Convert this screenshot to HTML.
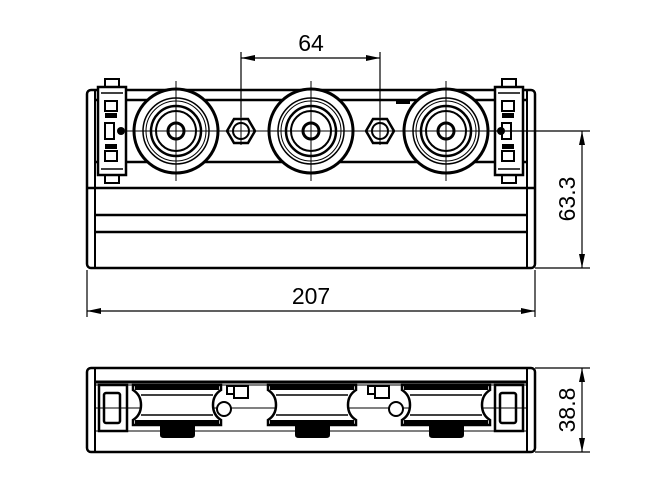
<!DOCTYPE html>
<html><head><meta charset="utf-8"><style>html,body{margin:0;padding:0;background:#fff}svg{display:block}</style></head><body>
<svg width="671" height="492" viewBox="0 0 671 492" xmlns="http://www.w3.org/2000/svg" font-family="Liberation Sans, sans-serif">
<defs>
<marker id="a" markerWidth="14" markerHeight="6" refX="14" refY="3" orient="auto" markerUnits="userSpaceOnUse"><path d="M0,0 L14,3 L0,6 z" fill="#000"/></marker>
<g id="wheel">
<circle r="42" fill="#fff" stroke="#000" stroke-width="3"/>
<circle r="33" fill="none" stroke="#000" stroke-width="1.5"/>
<circle r="30" fill="none" stroke="#000" stroke-width="1"/>
<circle r="25" fill="none" stroke="#000" stroke-width="2.5"/>
<circle r="20" fill="none" stroke="#000" stroke-width="2"/>
<circle r="8" fill="none" stroke="#000" stroke-width="3"/>
<line x1="-50" y1="0" x2="50" y2="0" stroke="#000" stroke-width="1"/>
<line x1="0" y1="-50" x2="0" y2="50" stroke="#000" stroke-width="1"/>
</g>
<g id="nut">
<polygon points="-14,0 -7,-12 7,-12 14,0 7,12 -7,12" fill="#fff" stroke="#000" stroke-width="2.5"/>
<circle r="8" fill="none" stroke="#000" stroke-width="2"/>
<line x1="-20" y1="0" x2="20" y2="0" stroke="#000" stroke-width="1"/>
<line x1="0" y1="-14" x2="0" y2="14" stroke="#000" stroke-width="1"/>
</g>
<g id="clip">
<rect x="7" y="-52" width="14" height="8" fill="#fff" stroke="#000" stroke-width="2"/>
<rect x="7" y="44" width="14" height="8" fill="#fff" stroke="#000" stroke-width="2"/>
<rect x="0" y="-44" width="28" height="88" fill="#fff" stroke="#000" stroke-width="2.5"/>
<line x1="3" y1="-38" x2="25" y2="-38" stroke="#000" stroke-width="1.5"/>
<line x1="3" y1="38" x2="25" y2="38" stroke="#000" stroke-width="1.5"/>
<rect x="7" y="-30" width="12" height="10" fill="none" stroke="#000" stroke-width="2"/>
<rect x="7" y="-18" width="12" height="5" fill="#000"/>
<rect x="7" y="-8" width="9" height="16" fill="none" stroke="#000" stroke-width="2"/>
<rect x="7" y="13" width="12" height="5" fill="#000"/>
<rect x="7" y="20" width="12" height="10" fill="none" stroke="#000" stroke-width="2"/>
</g>
<g id="spool">
<path d="M0,0 H88 V5 Q80,10 80,20 Q80,30 88,35 V40 H0 V35 Q8,30 8,20 Q8,10 0,5 Z" fill="#fff" stroke="#000" stroke-width="2.5"/>
<rect x="2" y="0" width="84" height="5" fill="#000"/>
<rect x="2" y="35" width="84" height="4" fill="#000"/>
<line x1="8" y1="10" x2="80" y2="10" stroke="#000" stroke-width="1.5"/>
<line x1="8" y1="30" x2="80" y2="30" stroke="#000" stroke-width="1.5"/>
<path d="M27,40 H62 V50 Q62,53 58,53 H31 Q27,53 27,50 Z" fill="#000"/>
</g>
</defs>

<!-- TOP VIEW -->
<g fill="none" stroke="#000">
<rect x="87" y="90" width="448" height="178" rx="4" stroke-width="2.5"/>
<line x1="95" y1="90" x2="95" y2="268" stroke-width="2"/>
<line x1="527" y1="90" x2="527" y2="268" stroke-width="2"/>
<line x1="95" y1="100" x2="527" y2="100" stroke-width="2.5"/>
<line x1="95" y1="162" x2="527" y2="162" stroke-width="2.5"/>
<line x1="87" y1="188" x2="535" y2="188" stroke-width="2.5"/>
<line x1="95" y1="215" x2="527" y2="215" stroke-width="2.5"/>
<line x1="95" y1="232" x2="527" y2="232" stroke-width="2.5"/>
</g>
<rect x="396" y="100" width="14" height="4" fill="#000"/>
<use href="#clip" x="98" y="131"/>
<use href="#clip" x="495" y="131"/>
<circle cx="121" cy="131" r="4" fill="#000"/>
<circle cx="501" cy="131" r="4" fill="#000"/>
<use href="#wheel" x="176" y="131"/>
<use href="#wheel" x="311" y="131"/>
<use href="#wheel" x="446" y="131"/>
<use href="#nut" x="241" y="131"/>
<use href="#nut" x="380" y="131"/>

<!-- dim 64 -->
<g stroke="#000" stroke-width="1.2">
<line x1="241" y1="52" x2="241" y2="117"/>
<line x1="380" y1="52" x2="380" y2="117"/>
<line x1="311" y1="58" x2="241" y2="58" marker-end="url(#a)"/>
<line x1="311" y1="58" x2="380" y2="58" marker-end="url(#a)"/>
</g>
<text x="311" y="51" font-size="23" text-anchor="middle">64</text>

<!-- dim 63.3 -->
<g stroke="#000" stroke-width="1.2">
<line x1="490" y1="131" x2="590" y2="131"/>
<line x1="535" y1="268" x2="590" y2="268"/>
<line x1="582" y1="200" x2="582" y2="131" marker-end="url(#a)"/>
<line x1="582" y1="200" x2="582" y2="268" marker-end="url(#a)"/>
</g>
<text transform="translate(575,199) rotate(-90)" font-size="23" text-anchor="middle">63.3</text>

<!-- dim 207 -->
<g stroke="#000" stroke-width="1.2">
<line x1="87" y1="270" x2="87" y2="317"/>
<line x1="535" y1="270" x2="535" y2="317"/>
<line x1="311" y1="311" x2="87" y2="311" marker-end="url(#a)"/>
<line x1="311" y1="311" x2="535" y2="311" marker-end="url(#a)"/>
</g>
<text x="311" y="304" font-size="23" text-anchor="middle">207</text>

<!-- SIDE VIEW -->
<g fill="none" stroke="#000">
<rect x="87" y="368" width="448" height="84" rx="4" stroke-width="2.5"/>
<line x1="95" y1="368" x2="95" y2="452" stroke-width="2"/>
<line x1="527" y1="368" x2="527" y2="452" stroke-width="2"/>
<line x1="95" y1="382" x2="527" y2="382" stroke-width="3"/>
<line x1="95" y1="385" x2="527" y2="385" stroke-width="1"/>
<line x1="95" y1="408" x2="527" y2="408" stroke-width="1"/>
<line x1="95" y1="431" x2="527" y2="431" stroke-width="1"/>
<rect x="99" y="385" width="28" height="46" stroke-width="2.5"/>
<rect x="104" y="393" width="16" height="30" rx="2" stroke-width="2.5"/>
<rect x="495" y="385" width="28" height="46" stroke-width="2.5"/>
<rect x="500" y="393" width="16" height="30" rx="2" stroke-width="2.5"/>
</g>
<use href="#spool" x="133" y="385"/>
<use href="#spool" x="268" y="385"/>
<use href="#spool" x="402" y="385"/>
<g fill="#fff" stroke="#000" stroke-width="2">
<circle cx="224" cy="409" r="7"/>
<circle cx="396" cy="409" r="7"/>
<rect x="227" y="386" width="8" height="8"/>
<rect x="234" y="386" width="14" height="12"/>
<rect x="368" y="386" width="8" height="8"/>
<rect x="375" y="386" width="14" height="12"/>
</g>

<!-- dim 38.8 -->
<g stroke="#000" stroke-width="1.2">
<line x1="535" y1="368" x2="590" y2="368"/>
<line x1="535" y1="452" x2="590" y2="452"/>
<line x1="582" y1="410" x2="582" y2="368" marker-end="url(#a)"/>
<line x1="582" y1="410" x2="582" y2="452" marker-end="url(#a)"/>
</g>
<text transform="translate(575,410) rotate(-90)" font-size="23" text-anchor="middle">38.8</text>
</svg>
</body></html>
